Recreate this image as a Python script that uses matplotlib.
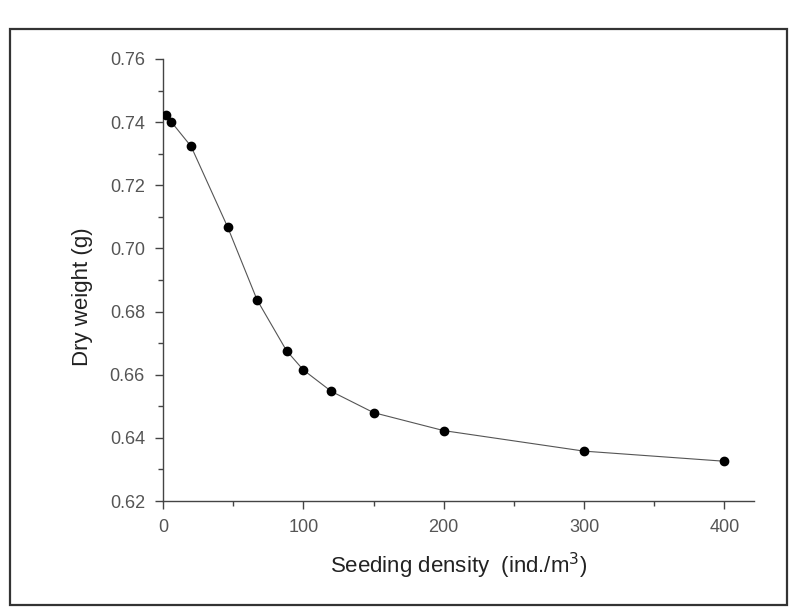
import matplotlib.pyplot as plt
from matplotlib.patches import Rectangle
from matplotlib.ticker import MultipleLocator

plt.rcParams['font.family'] = ['Liberation Sans', 'DejaVu Sans']

# Données
densite = [2, 6, 20, 46, 67, 88, 100, 120, 150, 200, 300, 400]
poids_sec = [0.7423, 0.7400, 0.7323, 0.7068, 0.6837, 0.6676, 0.6615,
             0.6547, 0.6480, 0.6423, 0.6358, 0.6326]

fig = plt.figure(figsize=(7.93, 6.14), dpi=100)
ax = fig.add_axes([0.2056, 0.184, 0.745, 0.720])

# Courbe + points
ax.plot(densite, poids_sec, color='#555555', linewidth=0.8, zorder=2)
ax.plot(densite, poids_sec, 'o', color='black', markersize=6, zorder=3)

ax.set_xlim(0, 421)
ax.set_ylim(0.62, 0.76)
ax.xaxis.set_major_locator(MultipleLocator(100))
ax.xaxis.set_minor_locator(MultipleLocator(50))
ax.yaxis.set_major_locator(MultipleLocator(0.02))
ax.yaxis.set_minor_locator(MultipleLocator(0.01))
ax.yaxis.set_major_formatter(plt.FormatStrFormatter('%.2f'))

for s in ['top', 'right']:
    ax.spines[s].set_visible(False)
for s in ['left', 'bottom']:
    ax.spines[s].set_color('#444444')
    ax.spines[s].set_linewidth(1.0)

ax.tick_params(which='major', direction='out', length=6, width=1.0,
               color='#444444', labelsize=13, labelcolor='#555555')
ax.tick_params(axis='x', which='major', pad=7)
ax.tick_params(axis='y', which='major', pad=7)
ax.tick_params(which='minor', direction='out', length=3.5, width=1.0,
               color='#444444')

# Titres des axes
fig.text(0.104, 0.516, 'Dry weight (g)', rotation=90, ha='center', va='center',
         fontsize=16, color='#222222')
fig.text(0.578, 0.078, 'Seeding density  (ind./m$^3$)', ha='center', va='center',
         fontsize=16, color='#222222')

# Cadre de la figure scannée
cadre = Rectangle((0.013, 0.015), 0.980, 0.938, transform=fig.transFigure,
                  fill=False, edgecolor='#333333', linewidth=1.6)
fig.patches.append(cadre)

plt.savefig('out.png', dpi=100)
